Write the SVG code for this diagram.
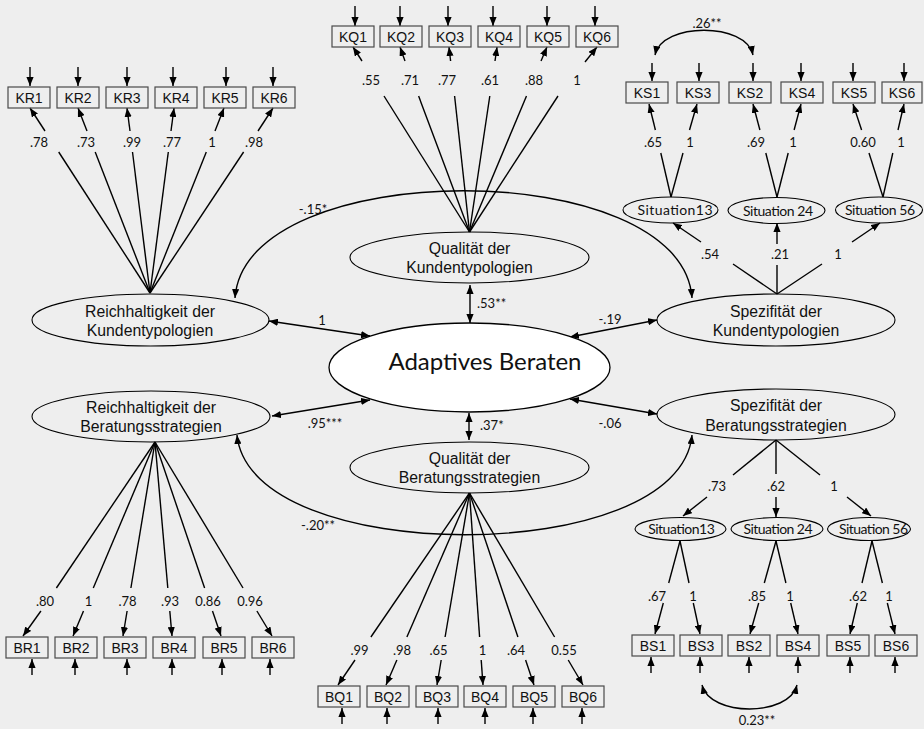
<svg xmlns="http://www.w3.org/2000/svg" width="924" height="729" viewBox="0 0 924 729">
  <defs>
    <style>
      .bg { fill: #eeeeee; }
      .box { fill: none; stroke: #4a4a4a; stroke-width: 1.2; }
      .ell { fill: none; stroke: #000; stroke-width: 1.1; }
      .ln { fill: none; stroke: #000; stroke-width: 1.4; }
      .arr { marker-end: url(#ah); }
      .dbl { marker-start: url(#ah); marker-end: url(#ah); }
      .bt { font-family: "Liberation Sans", Arial, sans-serif; font-size: 14px; text-anchor: middle; fill: #111; }
      .et { font-family: "Liberation Sans", Arial, sans-serif; font-size: 15.8px; text-anchor: middle; fill: #111; }
      .n { font-family: Lato, "Open Sans", sans-serif; font-size: 13px; text-anchor: middle; fill: #111; }
      .ns { font-family: Lato, "Open Sans", sans-serif; font-size: 13px; text-anchor: start; fill: #111; }
      .st { font-family: Lato, "Open Sans", sans-serif; font-size: 14px; text-anchor: middle; fill: #111; }
    </style>
    <marker id="ah" viewBox="0 0 10 8" refX="10" refY="4" markerWidth="9" markerHeight="7.2" markerUnits="userSpaceOnUse" orient="auto-start-reverse">
      <path d="M0,0 L10,4 L0,8 z" fill="#000"/>
    </marker>
  </defs>

  <rect class="bg" x="0" y="0" width="924" height="729"/>

  <!-- connectors: loadings, error terms, covariances -->
  <g id="connectors">
    <!-- error terms above the K indicators -->
    <g class="ln arr">
      <path d="M30,67 V86"/><path d="M78,67 V86"/><path d="M127,67 V86"/><path d="M173,67 V86"/><path d="M226,67 V86"/><path d="M273,67 V86"/>
      <path d="M355,6 V26"/><path d="M400,6 V26"/><path d="M448,6 V26"/><path d="M493,6 V26"/><path d="M547,6 V26"/><path d="M595,6 V26"/>
      <path d="M652,63 V81"/><path d="M699,63 V81"/><path d="M753,63 V81"/><path d="M801,63 V81"/><path d="M853,63 V81"/><path d="M904,63 V81"/>
      <!-- error terms below the B indicators -->
      <path d="M32,675 V659"/><path d="M75,675 V659"/><path d="M127,675 V659"/><path d="M172,675 V659"/><path d="M222,675 V659"/><path d="M270,675 V659"/>
      <path d="M342,724 V708"/><path d="M387,724 V708"/><path d="M438,724 V708"/><path d="M485,724 V708"/><path d="M533,724 V708"/><path d="M582,724 V708"/>
      <path d="M651,673 V657"/><path d="M700,673 V657"/><path d="M749,673 V657"/><path d="M798,673 V657"/><path d="M850,673 V657"/><path d="M895,673 V657"/>
    </g>

    <!-- Reichhaltigkeit der Kundentypologien -> KR -->
    <g class="ln">
      <path d="M150,293 L58.7,152"/><path d="M150,293 L95.2,152"/><path d="M150,293 L132.5,152"/>
      <path d="M150,293 L168.3,152"/><path d="M150,293 L206.3,152"/><path d="M150,293 L243.6,152"/>
    </g>
    <g class="ln arr">
      <path d="M45,131 L30,108"/><path d="M87,131 L78,108"/><path d="M130,131 L127,108"/>
      <path d="M171,131 L174,108"/><path d="M215,131 L224,108"/><path d="M258,131 L273,108"/>
    </g>

    <!-- Qualität der Kundentypologien -> KQ -->
    <g class="ln">
      <path d="M469.5,232 L384,96"/><path d="M469.5,232 L418.6,96"/><path d="M469.5,232 L454.6,96"/>
      <path d="M469.5,232 L489.8,96"/><path d="M469.5,232 L526.5,96"/><path d="M469.5,232 L558,96"/>
    </g>
    <g class="ln arr">
      <path d="M362,61 L353,47"/><path d="M405,61 L400,47"/><path d="M450.6,61 L449,47"/>
      <path d="M495,61 L497,47"/><path d="M541,61 L547,47"/><path d="M585,62 L597,47"/>
    </g>

    <!-- Situations (Kundentypologien) -> KS -->
    <g class="ln">
      <path d="M671,197 L660.8,153"/><path d="M671,197 L683,153"/>
      <path d="M777,197 L765.8,153"/><path d="M777,197 L788.2,153"/>
      <path d="M883,197 L869,153"/><path d="M883,197 L892.8,153"/>
      <!-- Spezifität der Kundentypologien -> situations -->
      <path d="M777,294 L733,264"/><path d="M777,294 L777,265"/><path d="M777,294 L822,264"/>
    </g>
    <g class="ln arr">
      <path d="M655.4,130 L649,104"/><path d="M689.5,130 L697,104"/>
      <path d="M759.9,130 L753,104"/><path d="M794.1,130 L801,104"/>
      <path d="M861.6,130 L853,104"/><path d="M898,130 L904,104"/>
      <path d="M701,242 L673,223"/><path d="M777,244 L777,223"/><path d="M852,242 L880,223"/>
    </g>

    <!-- Spezifität der Beratungsstrategien -> situations -->
    <g class="ln">
      <path d="M776,440 L733,475"/><path d="M776,440 L776,474"/><path d="M776,440 L820,475"/>
      <path d="M680,541 L668.7,583"/><path d="M680,541 L689,583"/>
      <path d="M776,541 L764.3,583"/><path d="M776,541 L785.9,583"/>
      <path d="M872,541 L862,583"/><path d="M872,541 L882.4,583"/>
    </g>
    <g class="ln arr">
      <path d="M707,497 L683,516"/><path d="M776,497 L776,517"/><path d="M847,497 L871,516"/>
      <path d="M663.3,603 L655,634"/><path d="M693.3,603 L700,634"/>
      <path d="M758.7,603 L750,634"/><path d="M790.7,603 L798,634"/>
      <path d="M857.3,603 L850,634"/><path d="M887.3,603 L895,634"/>
    </g>

    <!-- Reichhaltigkeit der Beratungsstrategien -> BR -->
    <g class="ln">
      <path d="M155,442 L56.4,588"/><path d="M155,442 L93.3,588"/><path d="M155,442 L130.9,588"/>
      <path d="M155,442 L167.8,588"/><path d="M155,442 L204.6,588"/><path d="M155,442 L243,588"/>
    </g>
    <g class="ln arr">
      <path d="M40.9,611 L23,636"/><path d="M83.5,611 L73,636"/><path d="M127.1,611 L123,636"/>
      <path d="M169.8,611 L172,636"/><path d="M212.5,611 L221,636"/><path d="M256.9,611 L272,636"/>
    </g>

    <!-- Qualität der Beratungsstrategien -> BQ -->
    <g class="ln">
      <path d="M469.5,493 L370.9,637"/><path d="M469.5,493 L406.9,637"/><path d="M469.5,493 L445.1,637"/>
      <path d="M469.5,493 L479.6,637"/><path d="M469.5,493 L517.9,637"/><path d="M469.5,493 L554.6,637"/>
    </g>
    <g class="ln arr">
      <path d="M355,660 L338,685"/><path d="M396.9,660 L386,685"/><path d="M441.2,660 L437,685"/>
      <path d="M481.2,660 L483,685"/><path d="M525.6,660 L534,685"/><path d="M568.2,660 L583,685"/>
    </g>

    <!-- covariances -->
    <g class="ln dbl">
      <path d="M655,55 C662,22 746,22 753,55"/>
      <path d="M702,685 C710,717 789,717 797,685"/>
      <path d="M235,298 C245,155 682,155 692,298"/>
      <path d="M237,435 C250,568 680,568 692,435"/>
      <path d="M269,321 L370,336"/>
      <path d="M272,416 L370,400"/>
      <path d="M570,337 L657,320"/>
      <path d="M570,399 L657,414"/>
      <path d="M470,285 L470,323"/>
      <path d="M469,413 L469,440"/>
    </g>

    <!-- coefficients -->
    <g class="n">
      <text x="39" y="146.5">.78</text><text x="86" y="146.5">.73</text><text x="132" y="146.5">.99</text>
      <text x="172" y="146.5">.77</text><text x="212" y="146.5">1</text><text x="254" y="146.5">.98</text>

      <text x="371" y="84.5">.55</text><text x="410" y="84.5">.71</text><text x="447" y="84.5">.77</text>
      <text x="490" y="84.5">.61</text><text x="534" y="84.5">.88</text><text x="577" y="84.5">1</text>

      <text x="653" y="146.5">.65</text><text x="690" y="146.5">1</text><text x="756" y="146.5">.69</text>
      <text x="793" y="146.5">1</text><text x="863" y="146.5">0.60</text><text x="901" y="146.5">1</text>

      <text x="707" y="27.5">.26**</text>
      <text x="710" y="258.5">.54</text><text x="780" y="258.5">.21</text><text x="838" y="258.5">1</text>
      <text x="313" y="213.5">-.15*</text>
      <text x="322" y="324.5">1</text>
      <text x="610" y="323.5">-.19</text>
      <text x="325" y="427.5">.95***</text>
      <text x="610" y="427.5">-.06</text>
      <text x="717" y="490.5">.73</text><text x="776" y="490.5">.62</text><text x="834" y="490.5">1</text>
      <text x="318" y="529.5">-.20**</text>

      <text x="45" y="605.5">.80</text><text x="88.5" y="605.5">1</text><text x="127.5" y="605.5">.78</text>
      <text x="170" y="605.5">.93</text><text x="208" y="605.5">0.86</text><text x="250" y="605.5">0.96</text>

      <text x="359.5" y="654.5">.99</text><text x="402" y="654.5">.98</text><text x="438.5" y="654.5">.65</text>
      <text x="482.5" y="654.5">1</text><text x="516" y="654.5">.64</text><text x="564" y="654.5">0.55</text>

      <text x="657" y="600.5">.67</text><text x="693" y="600.5">1</text><text x="757" y="600.5">.85</text>
      <text x="790" y="600.5">1</text><text x="858" y="600.5">.62</text><text x="889" y="600.5">1</text>

      <text x="757" y="724.5">0.23**</text>
    </g>
    <text class="ns" x="477" y="307.5">.53**</text>
    <text class="ns" x="480" y="429.5">.37*</text>
  </g>

  <!-- indicators: Reichhaltigkeit der Kundentypologien -->
  <g id="KR1"><rect class="box" x="8" y="87" width="42" height="21"/><text class="bt" x="29" y="102.5">KR1</text></g>
  <g id="KR2"><rect class="box" x="57" y="87" width="42" height="21"/><text class="bt" x="78" y="102.5">KR2</text></g>
  <g id="KR3"><rect class="box" x="106" y="87" width="42" height="21"/><text class="bt" x="127" y="102.5">KR3</text></g>
  <g id="KR4"><rect class="box" x="155" y="87" width="42" height="21"/><text class="bt" x="176" y="102.5">KR4</text></g>
  <g id="KR5"><rect class="box" x="204" y="87" width="42" height="21"/><text class="bt" x="225" y="102.5">KR5</text></g>
  <g id="KR6"><rect class="box" x="253" y="87" width="42" height="21"/><text class="bt" x="274" y="102.5">KR6</text></g>

  <!-- indicators: Qualität der Kundentypologien -->
  <g id="KQ1"><rect class="box" x="332" y="26" width="42" height="21"/><text class="bt" x="353" y="41.5">KQ1</text></g>
  <g id="KQ2"><rect class="box" x="380" y="26" width="42" height="21"/><text class="bt" x="401" y="41.5">KQ2</text></g>
  <g id="KQ3"><rect class="box" x="429" y="26" width="42" height="21"/><text class="bt" x="450" y="41.5">KQ3</text></g>
  <g id="KQ4"><rect class="box" x="478" y="26" width="42" height="21"/><text class="bt" x="499" y="41.5">KQ4</text></g>
  <g id="KQ5"><rect class="box" x="527" y="26" width="42" height="21"/><text class="bt" x="548" y="41.5">KQ5</text></g>
  <g id="KQ6"><rect class="box" x="576" y="26" width="42" height="21"/><text class="bt" x="597" y="41.5">KQ6</text></g>

  <!-- indicators: Spezifität der Kundentypologien -->
  <g id="KS1"><rect class="box" x="626" y="82" width="42" height="21"/><text class="bt" x="647" y="97.5">KS1</text></g>
  <g id="KS3"><rect class="box" x="677" y="82" width="42" height="21"/><text class="bt" x="698" y="97.5">KS3</text></g>
  <g id="KS2"><rect class="box" x="729" y="82" width="42" height="21"/><text class="bt" x="750" y="97.5">KS2</text></g>
  <g id="KS4"><rect class="box" x="781" y="82" width="42" height="21"/><text class="bt" x="802" y="97.5">KS4</text></g>
  <g id="KS5"><rect class="box" x="833" y="82" width="42" height="21"/><text class="bt" x="854" y="97.5">KS5</text></g>
  <g id="KS6"><rect class="box" x="882" y="82" width="40" height="21"/><text class="bt" x="902" y="97.5">KS6</text></g>

  <!-- situation factors (Kundentypologien) -->
  <g id="KSit13"><ellipse class="ell" cx="670.5" cy="210" rx="47.5" ry="13"/><text class="st" x="675" y="215" font-size="15" textLength="75">Situation13</text></g>
  <g id="KSit24"><ellipse class="ell" cx="776.5" cy="210.5" rx="48.5" ry="13"/><text class="st" x="778" y="216" textLength="70">Situation 24</text></g>
  <g id="KSit56"><ellipse class="ell" cx="879" cy="210" rx="43.5" ry="13"/><text class="st" x="880" y="214.5" textLength="70">Situation 56</text></g>

  <!-- latent factors -->
  <g id="QualKT"><ellipse class="ell" cx="469.5" cy="257.5" rx="119.5" ry="25.5"/><text class="et" x="469.5" y="254">Qualität der</text><text class="et" x="469.5" y="273">Kundentypologien</text></g>
  <g id="ReichKT"><ellipse class="ell" cx="150.5" cy="320" rx="118.5" ry="26"/><text class="et" x="150" y="316.5">Reichhaltigkeit der</text><text class="et" x="150" y="336">Kundentypologien</text></g>
  <g id="SpezKT"><ellipse class="ell" cx="776" cy="320" rx="119" ry="26"/><text class="et" x="776" y="316.5">Spezifität der</text><text class="et" x="776" y="336">Kundentypologien</text></g>

  <g id="AdaptivesBeraten"><ellipse cx="469.5" cy="367.5" rx="140.5" ry="44.5" fill="#fff" stroke="#000" stroke-width="1.3"/><text x="485" y="370" font-family="Lato, 'Open Sans', sans-serif" font-size="24" text-anchor="middle" fill="#111" textLength="193">Adaptives Beraten</text></g>

  <g id="ReichBS"><ellipse class="ell" cx="151" cy="416.5" rx="119" ry="25.5"/><text class="et" x="151" y="413">Reichhaltigkeit der</text><text class="et" x="151" y="432">Beratungsstrategien</text></g>
  <g id="SpezBS"><ellipse class="ell" cx="776" cy="414.5" rx="119" ry="25.5"/><text class="et" x="776" y="411">Spezifität der</text><text class="et" x="776" y="430.5">Beratungsstrategien</text></g>
  <g id="QualBS"><ellipse class="ell" cx="469.5" cy="467.5" rx="119.5" ry="25.5"/><text class="et" x="469.5" y="464">Qualität der</text><text class="et" x="469.5" y="482.5">Beratungsstrategien</text></g>

  <!-- situation factors (Beratungsstrategien) -->
  <g id="BSit13"><ellipse class="ell" cx="680.5" cy="529" rx="45.5" ry="11.5"/><text class="st" x="681.5" y="533.5" textLength="66.5">Situation13</text></g>
  <g id="BSit24"><ellipse class="ell" cx="777" cy="529" rx="46" ry="11.5"/><text class="st" x="778" y="533.5" textLength="69">Situation 24</text></g>
  <g id="BSit56"><ellipse class="ell" cx="869" cy="529" rx="41.5" ry="11.5"/><text class="st" x="873.5" y="533.5" textLength="69">Situation 56</text></g>

  <!-- indicators: Reichhaltigkeit der Beratungsstrategien -->
  <g id="BR1"><rect class="box" x="6" y="637" width="42" height="21"/><text class="bt" x="27" y="652.5">BR1</text></g>
  <g id="BR2"><rect class="box" x="55" y="637" width="42" height="21"/><text class="bt" x="76" y="652.5">BR2</text></g>
  <g id="BR3"><rect class="box" x="104" y="637" width="42" height="21"/><text class="bt" x="125" y="652.5">BR3</text></g>
  <g id="BR4"><rect class="box" x="153" y="637" width="42" height="21"/><text class="bt" x="174" y="652.5">BR4</text></g>
  <g id="BR5"><rect class="box" x="203" y="637" width="42" height="21"/><text class="bt" x="224" y="652.5">BR5</text></g>
  <g id="BR6"><rect class="box" x="252" y="637" width="42" height="21"/><text class="bt" x="273" y="652.5">BR6</text></g>

  <!-- indicators: Qualität der Beratungsstrategien -->
  <g id="BQ1"><rect class="box" x="318" y="686" width="42" height="21"/><text class="bt" x="339" y="701.5">BQ1</text></g>
  <g id="BQ2"><rect class="box" x="367" y="686" width="42" height="21"/><text class="bt" x="388" y="701.5">BQ2</text></g>
  <g id="BQ3"><rect class="box" x="416" y="686" width="42" height="21"/><text class="bt" x="437" y="701.5">BQ3</text></g>
  <g id="BQ4"><rect class="box" x="464" y="686" width="42" height="21"/><text class="bt" x="485" y="701.5">BQ4</text></g>
  <g id="BQ5"><rect class="box" x="513" y="686" width="42" height="21"/><text class="bt" x="534" y="701.5">BQ5</text></g>
  <g id="BQ6"><rect class="box" x="562" y="686" width="42" height="21"/><text class="bt" x="583" y="701.5">BQ6</text></g>

  <!-- indicators: Spezifität der Beratungsstrategien -->
  <g id="BS1"><rect class="box" x="632" y="635" width="42" height="21"/><text class="bt" x="653" y="650.5">BS1</text></g>
  <g id="BS3"><rect class="box" x="680" y="635" width="42" height="21"/><text class="bt" x="701" y="650.5">BS3</text></g>
  <g id="BS2"><rect class="box" x="728" y="635" width="42" height="21"/><text class="bt" x="749" y="650.5">BS2</text></g>
  <g id="BS4"><rect class="box" x="777" y="635" width="42" height="21"/><text class="bt" x="798" y="650.5">BS4</text></g>
  <g id="BS5"><rect class="box" x="827" y="635" width="42" height="21"/><text class="bt" x="848" y="650.5">BS5</text></g>
  <g id="BS6"><rect class="box" x="875" y="635" width="42" height="21"/><text class="bt" x="896" y="650.5">BS6</text></g>
</svg>
